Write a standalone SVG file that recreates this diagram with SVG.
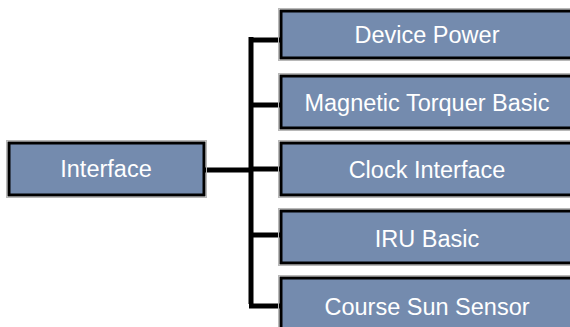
<svg xmlns="http://www.w3.org/2000/svg" width="570" height="327" viewBox="0 0 570 327">
<style>
.box{fill:#748bae;stroke:#000;stroke-width:3}
.halo{fill:none;stroke:#b8b8b8;stroke-width:1}
.lbl{font-family:"Liberation Sans",Arial,sans-serif;font-size:23.5px;fill:#fff;text-anchor:middle}
.wire{stroke:#000;stroke-width:5;fill:none}
</style>
<rect width="570" height="327" fill="#fff"/>
<g id="connectors">
<line class="wire" x1="204" y1="170" x2="250" y2="170"/>
<line class="wire" x1="251" y1="37" x2="251" y2="304"/>
<line class="wire" x1="249" y1="40" x2="281" y2="40"/>
<line class="wire" x1="251" y1="105" x2="281" y2="105"/>
<line class="wire" x1="251" y1="169" x2="281" y2="169"/>
<line class="wire" x1="251" y1="235" x2="281" y2="235"/>
<line class="wire" x1="249" y1="306" x2="281" y2="306"/>
</g>
<g id="interface">
<rect class="halo" x="6.5" y="140.5" width="200" height="57"/>
<rect class="box" x="9" y="143" width="195" height="52"/>
<text class="lbl" x="106" y="177">Interface</text>
</g>
<g id="device-power">
<rect class="halo" x="278.5" y="8.5" width="300" height="52"/>
<rect class="box" x="281" y="11" width="295" height="47"/>
<text class="lbl" x="427" y="43">Device Power</text>
</g>
<g id="magnetic-torquer-basic">
<rect class="halo" x="278.5" y="73.5" width="300" height="57"/>
<rect class="box" x="281" y="76" width="295" height="52"/>
<text class="lbl" x="427" y="111">Magnetic Torquer Basic</text>
</g>
<g id="clock-interface">
<rect class="halo" x="278.5" y="140.5" width="300" height="57"/>
<rect class="box" x="281" y="143" width="295" height="52"/>
<text class="lbl" x="427" y="178">Clock Interface</text>
</g>
<g id="iru-basic">
<rect class="halo" x="278.5" y="208.5" width="300" height="57"/>
<rect class="box" x="281" y="211" width="295" height="52"/>
<text class="lbl" x="427" y="247">IRU Basic</text>
</g>
<g id="course-sun-sensor">
<rect class="halo" x="278.5" y="275.5" width="300" height="57"/>
<rect class="box" x="281" y="278" width="295" height="52"/>
<text class="lbl" x="427" y="315">Course Sun Sensor</text>
</g>
</svg>
